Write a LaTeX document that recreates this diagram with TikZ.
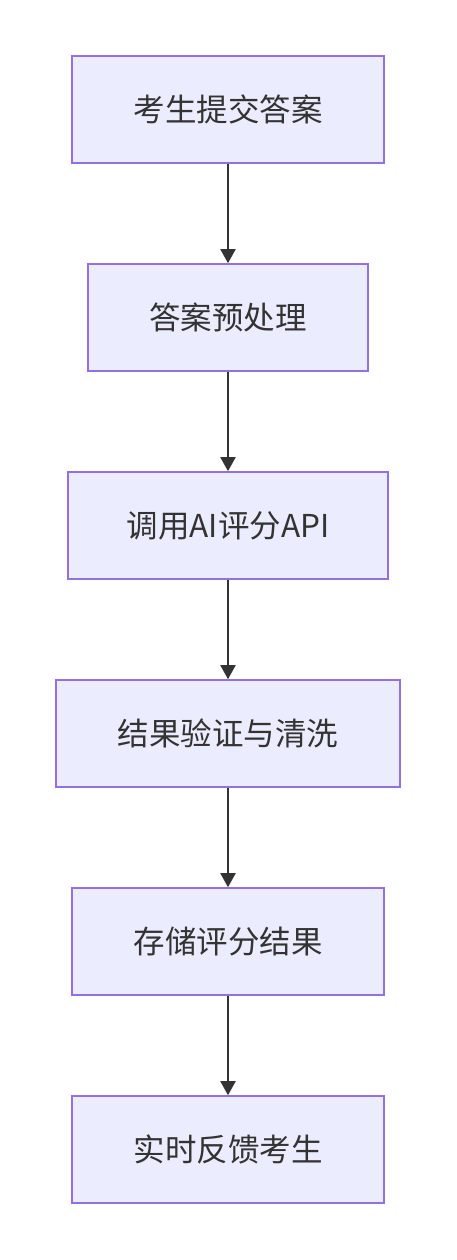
\documentclass[tikz,border=0pt]{standalone}
\usepackage{fontspec}
\setmainfont{Noto Sans CJK SC}
\usetikzlibrary{arrows.meta}
\definecolor{boxfill}{HTML}{ECECFF}
\definecolor{boxline}{HTML}{9370DB}
\definecolor{ink}{HTML}{333333}
\tikzset{
  stepbox/.style={draw=boxline, fill=boxfill, line width=1.6pt, minimum height=107pt, inner sep=0pt, text=ink, font=\fontsize{31.5}{38}\selectfont},
  flow/.style={draw=ink, line width=2pt, -{Triangle[width=15pt,length=14pt]}}
}
\begin{document}
\begin{tikzpicture}[x=1pt,y=-1pt]
\useasboundingbox (0,0) rectangle (456,1260);
\node[stepbox, minimum width=312pt] (n1) at (228,109.5) {考生提交答案};
\node[stepbox, minimum width=280pt] (n2) at (228,317.5) {答案预处理};
\node[stepbox, minimum width=320pt] (n3) at (228,525.5) {调用AI评分API};
\node[stepbox, minimum width=344pt] (n4) at (228,733.5) {结果验证与清洗};
\node[stepbox, minimum width=312pt] (n5) at (228,941.5) {存储评分结果};
\node[stepbox, minimum width=312pt] (n6) at (228,1149.5) {实时反馈考生};
\draw[flow] (n1) -- (n2);
\draw[flow] (n2) -- (n3);
\draw[flow] (n3) -- (n4);
\draw[flow] (n4) -- (n5);
\draw[flow] (n5) -- (n6);
\end{tikzpicture}
\end{document}
